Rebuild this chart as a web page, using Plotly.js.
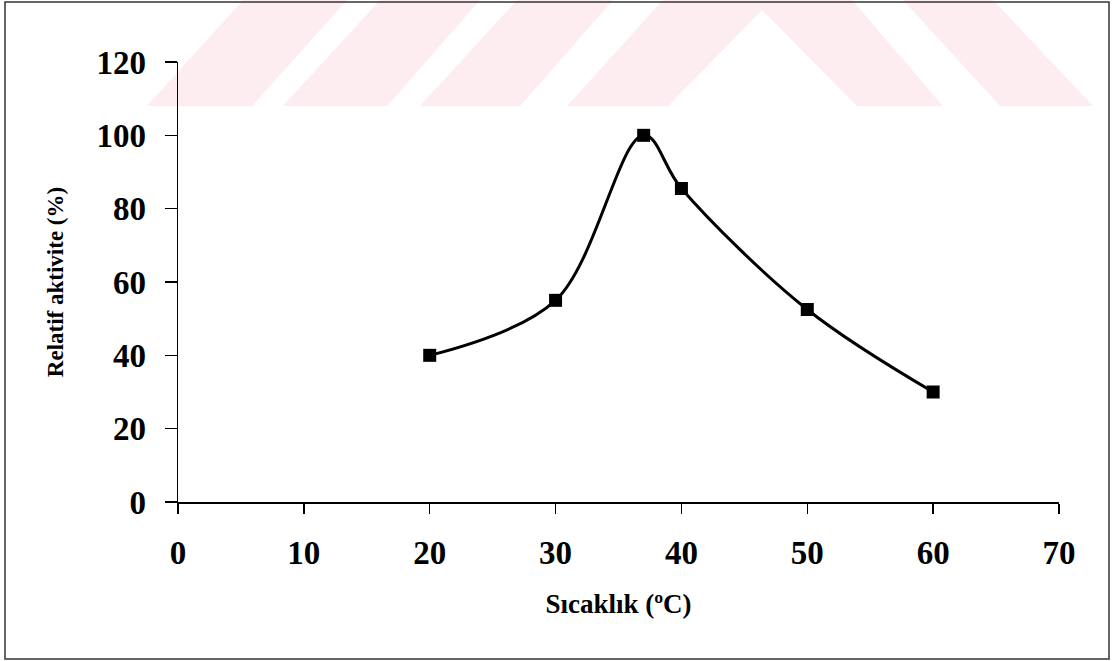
<!DOCTYPE html>
<html>
<head>
<meta charset="utf-8">
<script src="https://cdn.plot.ly/plotly-3.0.1.min.js"></script>
<style>
html,body{margin:0;padding:0;background:#fff;}
#chart{width:1112px;height:661px;}
</style>
</head>
<body>
<div id="chart"></div>
<script>
// Data
const temperature = [20, 30, 37, 40, 50, 60];
const relativeActivity = [40, 55, 100, 85.5, 52.5, 30];
const xTicks = [0, 10, 20, 30, 40, 50, 60, 70];
const yTicks = [0, 20, 40, 60, 80, 100, 120];
const xTitle = 'Sıcaklık (ºC)';
const yTitle = 'Relatif aktivite (%)';

// Layout geometry (pixels)
const W = 1112, H = 661;
const M = {l: 178, r: 53, t: 62, b: 159};
const PW = W - M.l - M.r, PH = H - M.t - M.b;
const px = x => (x - M.l) / PW;
const py = y => (H - M.b - y) / PH;
function pathFrom(pts){
  return pts.map((p,i)=>(i?'L':'M')+px(p[0]).toFixed(5)+','+py(p[1]).toFixed(5)).join(' ')+' Z';
}

// decorative watermark (background)
const wm = [
  [[147,106],[252,106],[347,0],[243,0]],
  [[283,106],[387,106],[480,0],[380,0]],
  [[420,106],[520,106],[613,0],[517,0]],
  [[567,106],[668,106],[762,10],[857,106],[943,106],[852,0],[663,0]],
  [[903,0],[993,0],[1093,106],[1000,106]]
];
const shapes = wm.map(p => ({
  type:'path', xref:'paper', yref:'paper', path: pathFrom(p),
  fillcolor:'rgb(253,236,240)', line:{width:0}, layer:'below'
}));
shapes.push({
  type:'rect', xref:'paper', yref:'paper',
  x0: px(5), x1: px(1109), y0: py(659), y1: py(2),
  line:{color:'#333', width:1.5}, fillcolor:'rgba(0,0,0,0)', layer:'above'
});

const font = 'Liberation Serif, Times New Roman, serif';

const trace = {
  x: temperature, y: relativeActivity,
  type:'scatter', mode:'lines+markers',
  line:{color:'#000', width:3, shape:'spline', smoothing:1},
  marker:{symbol:'square', size:13, color:'#000'},
  hoverinfo:'x+y'
};

const layout = {
  width: W, height: H,
  margin: M,
  paper_bgcolor:'#fff', plot_bgcolor:'rgba(0,0,0,0)',
  showlegend:false,
  font:{family:font, color:'#000'},
  xaxis:{
    range:[0,70], tickvals:xTicks, ticktext:xTicks.map(String),
    showgrid:false, zeroline:false, showline:true, linecolor:'#000', linewidth:1.5,
    ticks:'outside', ticklen:10, tickwidth:1.5, tickcolor:'#000',
    ticklabelstandoff:11,
    tickfont:{family:font, size:33, color:'#000', weight:'bold'},
    title:{text:'<b>'+xTitle+'</b>', font:{family:font, size:27, color:'#000'}, standoff:24}
  },
  yaxis:{
    range:[0,120], tickvals:yTicks, ticktext:yTicks.map(String),
    showgrid:false, zeroline:false, showline:true, linecolor:'#000', linewidth:1.5,
    ticks:'outside', ticklen:12, tickwidth:1.5, tickcolor:'#000',
    ticklabelstandoff:12,
    tickfont:{family:font, size:33, color:'#000', weight:'bold'},
    title:{text:'<b>'+yTitle+'</b>', font:{family:font, size:23, color:'#000'}, standoff:26}
  },
  shapes: shapes
};

Plotly.newPlot('chart', [trace], layout, {displayModeBar:false, staticPlot:true});
</script>
</body>
</html>
